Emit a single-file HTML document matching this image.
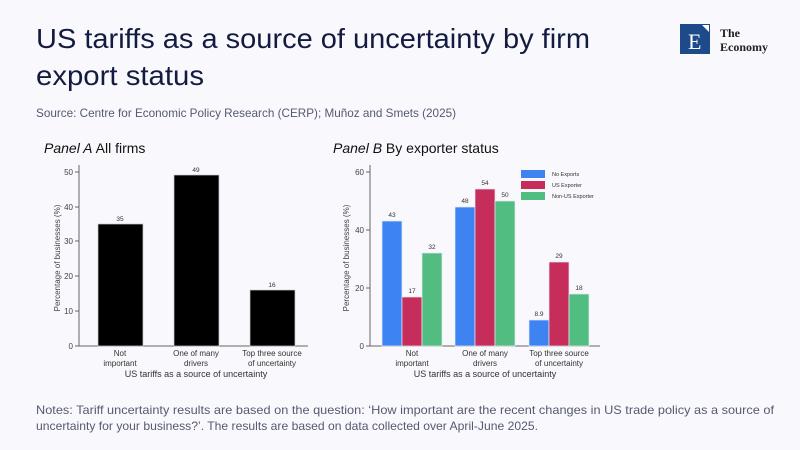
<!DOCTYPE html>
<html><head><meta charset="utf-8"><style>
html,body{margin:0;padding:0;background:#f8f8fd;}
svg{display:block;font-family:"Liberation Sans",Arial,sans-serif;}
</style></head><body>
<svg width="800" height="450" viewBox="0 0 800 450" xmlns="http://www.w3.org/2000/svg">
<rect width="800" height="450" fill="#f8f8fd"/>
<text x="36" y="48" font-size="28" fill="#131c40" textLength="554" lengthAdjust="spacingAndGlyphs">US tariffs as a source of uncertainty by firm</text>
<text x="36" y="85" font-size="28" fill="#131c40" textLength="168" lengthAdjust="spacingAndGlyphs">export status</text>
<text x="36" y="117" font-size="12" fill="#555a70" textLength="420" lengthAdjust="spacingAndGlyphs">Source: Centre for Economic Policy Research (CERP); Muñoz and Smets (2025)</text>
<!-- logo -->
<rect x="680" y="24" width="30" height="30" fill="#1d4b8a"/>
<polygon points="702,25 709,25 709,32" fill="#fff"/>
<text x="688" y="49" font-family="Liberation Serif,serif" font-size="22" fill="#fff">E</text>
<text x="720" y="37" font-family="Liberation Serif,serif" font-size="12" fill="#222" font-weight="bold">The</text>
<text x="720" y="51" font-family="Liberation Serif,serif" font-size="12" fill="#222" font-weight="bold">Economy</text>
<!-- Panel A -->
<text x="44" y="153" font-size="14" fill="#111"><tspan font-style="italic">Panel A</tspan> All firms</text>
<g stroke="#666" stroke-width="1">
<line x1="79" y1="165" x2="79" y2="346"/><line x1="79" y1="346" x2="308" y2="346"/>
<line x1="75" y1="346" x2="79" y2="346"/><line x1="75" y1="311" x2="79" y2="311"/><line x1="75" y1="276" x2="79" y2="276"/><line x1="75" y1="241" x2="79" y2="241"/><line x1="75" y1="207" x2="79" y2="207"/><line x1="75" y1="172" x2="79" y2="172"/>
</g>
<g font-size="8" fill="#444" text-anchor="end">
<text x="73" y="349">0</text><text x="73" y="314">10</text><text x="73" y="279">20</text><text x="73" y="244">30</text><text x="73" y="210">40</text><text x="73" y="175">50</text>
</g>
<text transform="translate(60,258) rotate(-90)" font-size="8" fill="#444" text-anchor="middle">Percentage of businesses (%)</text>
<g fill="#000" stroke="#ccc" stroke-width="0.7">
<rect x="98" y="224" width="45" height="122"/><rect x="174" y="175" width="45" height="171"/><rect x="250" y="290" width="45" height="56"/>
</g>
<g font-size="6.5" fill="#333" text-anchor="middle">
<text x="120" y="221">35</text><text x="196" y="172">49</text><text x="272" y="287">16</text>
</g>
<g font-size="8" fill="#333" text-anchor="middle">
<text x="120" y="356">Not</text><text x="120" y="366">important</text>
<text x="196" y="356">One of many</text><text x="196" y="366">drivers</text>
<text x="272" y="356">Top three source</text><text x="272" y="366">of uncertainty</text>
<text x="196" y="377" font-size="9">US tariffs as a source of uncertainty</text>
</g>
<!-- Panel B -->
<text x="333" y="153" font-size="14" fill="#111"><tspan font-style="italic">Panel B</tspan> By exporter status</text>
<g stroke="#666" stroke-width="1">
<line x1="370" y1="165" x2="370" y2="346"/><line x1="370" y1="346" x2="600" y2="346"/>
<line x1="366" y1="346" x2="370" y2="346"/><line x1="366" y1="288" x2="370" y2="288"/><line x1="366" y1="230" x2="370" y2="230"/><line x1="366" y1="172" x2="370" y2="172"/>
</g>
<g font-size="8" fill="#444" text-anchor="end">
<text x="364" y="349">0</text><text x="364" y="291">20</text><text x="364" y="233">40</text><text x="364" y="175">60</text>
</g>
<text transform="translate(349,258) rotate(-90)" font-size="8" fill="#444" text-anchor="middle">Percentage of businesses (%)</text>
<g stroke="#e8e8f5" stroke-width="0.7">
<rect x="382" y="221" width="20" height="125" fill="#3d84f2"/>
<rect x="402" y="297" width="20" height="49" fill="#c62d5a"/>
<rect x="422" y="253" width="20" height="93" fill="#52bd80"/>
<rect x="455" y="207" width="20" height="139" fill="#3d84f2"/>
<rect x="475" y="189" width="20" height="157" fill="#c62d5a"/>
<rect x="495" y="201" width="20" height="145" fill="#52bd80"/>
<rect x="529" y="320" width="20" height="26" fill="#3d84f2"/>
<rect x="549" y="262" width="20" height="84" fill="#c62d5a"/>
<rect x="569" y="294" width="20" height="52" fill="#52bd80"/>
</g>
<g font-size="6.5" fill="#333" text-anchor="middle">
<text x="392" y="217">43</text><text x="412" y="293">17</text><text x="432" y="249">32</text>
<text x="465" y="203">48</text><text x="485" y="185">54</text><text x="505" y="197">50</text>
<text x="539" y="316">8.9</text><text x="559" y="258">29</text><text x="579" y="290">18</text>
</g>
<rect x="521" y="170" width="24" height="8" fill="#3d84f2"/>
<rect x="521" y="181" width="24" height="8" fill="#c62d5a"/>
<rect x="521" y="192" width="24" height="8" fill="#52bd80"/>
<g font-size="5.5" fill="#333">
<text x="552" y="176">No Exports</text><text x="552" y="187">US Exporter</text><text x="552" y="198">Non-US Exporter</text>
</g>
<g font-size="8" fill="#333" text-anchor="middle">
<text x="412" y="356">Not</text><text x="412" y="366">important</text>
<text x="485" y="356">One of many</text><text x="485" y="366">drivers</text>
<text x="559" y="356">Top three source</text><text x="559" y="366">of uncertainty</text>
<text x="485" y="377" font-size="9">US tariffs as a source of uncertainty</text>
</g>
<!-- Notes -->
<text x="36" y="414" font-size="12" fill="#555a70" textLength="738" lengthAdjust="spacingAndGlyphs">Notes: Tariff uncertainty results are based on the question: ‘How important are the recent changes in US trade policy as a source of</text>
<text x="36" y="430" font-size="12" fill="#555a70" textLength="502" lengthAdjust="spacingAndGlyphs">uncertainty for your business?’. The results are based on data collected over April-June 2025.</text>
</svg>
</body></html>
